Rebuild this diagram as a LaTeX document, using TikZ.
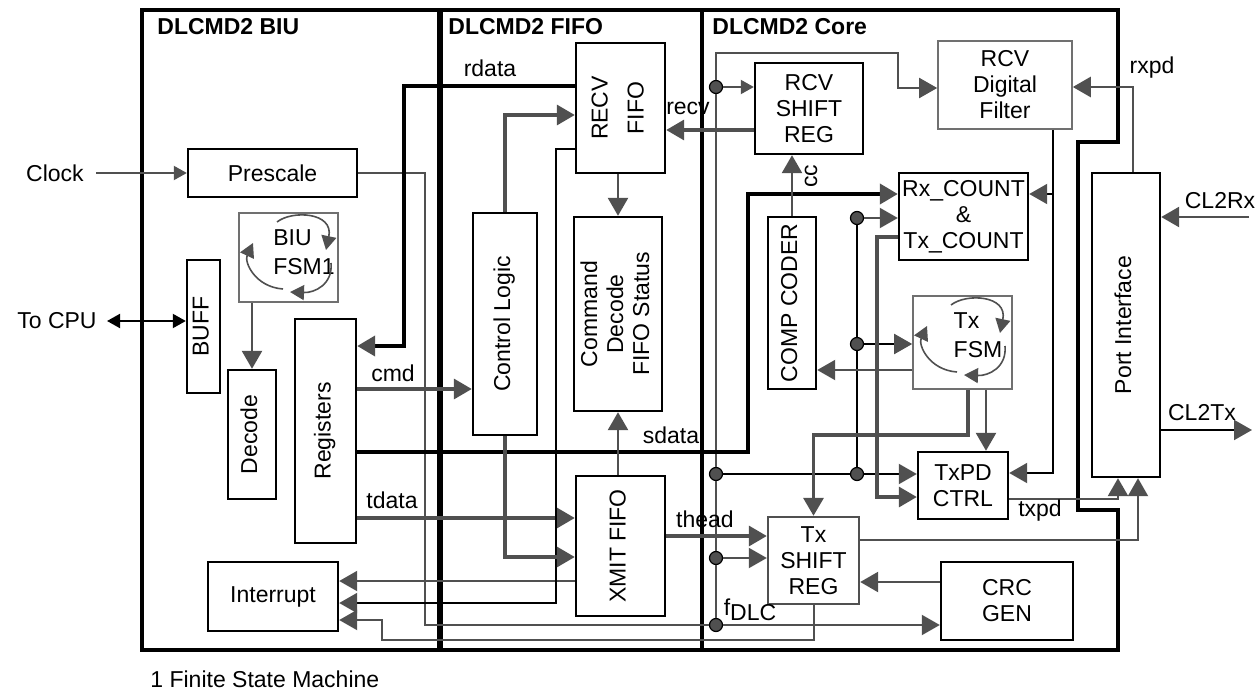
\documentclass[tikz,border=0pt]{standalone}
\usepackage{fontspec}
\setmainfont{Liberation Sans}
\usepackage{graphicx}
\usepackage{tikz}
\usetikzlibrary{arrows.meta,positioning}

\definecolor{agray}{HTML}{505050}
\definecolor{boxgray}{HTML}{707070}

% upright text turned on its side
\newcommand{\uptext}[1]{\rotatebox{90}{\begin{tabular}{@{}c@{}}#1\end{tabular}}}

\tikzset{
  regionframe/.style={line width=1.6pt},
  blk/.style={draw, line width=1.2pt, inner sep=0pt, align=center},
  gblk/.style={draw=boxgray, line width=0.8pt, inner sep=0pt, align=center},
  sz/.style 2 args={minimum width=#1*0.5pt, minimum height=#2*0.5pt},
  wire/.style={line width=1pt, draw=agray},
  mwire/.style={line width=1.3pt, draw=agray},
  bus/.style={line width=1.7pt, draw=agray},
  bwire/.style={line width=1pt, draw=black},
  bbus/.style={line width=2pt, draw=black},
  atip/.style={-{Triangle[length=9pt,width=10pt,color=agray]}},
  satip/.style={-{Triangle[length=6.5pt,width=7pt,color=agray]}},
  ftip/.style={-{Triangle[length=7pt,width=7.5pt,color=agray]}},
  jdot/.style={circle, fill=agray, draw=black, line width=0.6pt, inner sep=0pt, minimum size=6.5pt},
  lbl/.style={inner sep=0pt},
}

\begin{document}
\begin{tikzpicture}[x=0.5pt, y=-0.5pt, every node/.style={font=\fontsize{11.5}{13}\selectfont}]
  \useasboundingbox (0,0) rectangle (1259,696);

  % Region frames
  \draw[regionframe] (142,10) rectangle (440,650);
  \draw[regionframe] (440,10) rectangle (702,650);
  \draw[regionframe] (702,10) -- (1118,10) -- (1118,142) -- (1078,142) -- (1078,510)
    -- (1118,510) -- (1118,650) -- (702,650) -- cycle;
  \draw[line width=2.6pt] (440,10) -- (440,650);
  \draw[line width=2.2pt] (702,10) -- (702,650);

  \node[lbl, anchor=west, font=\bfseries\fontsize{11.5}{13}\selectfont] (biutitle) at (157,27) {DLCMD2 BIU};
  \node[lbl, anchor=west, font=\bfseries\fontsize{11.5}{13}\selectfont] (fifotitle) at (448,27) {DLCMD2 FIFO};
  \node[lbl, anchor=west, font=\bfseries\fontsize{11.5}{13}\selectfont] (coretitle) at (712,27) {DLCMD2 Core};

  % BIU blocks
  \node[blk, sz={169}{48}] (prescale) at (272.5,173) {Prescale};
  \node[gblk, sz={99}{89}] (fsmbiu) at (288.5,257.5) {};
  \node[lbl, align=left] (fsmbiutxt) at (304,252) {BIU\\[1.5pt]FSM1};
  \node[blk, sz={33}{133}] (buff) at (203.5,326.5) {\uptext{BUFF}};
  \node[blk, sz={48}{129}] (decode) at (252,434.5) {\uptext{Decode}};
  \node[blk, sz={61}{224}] (regs) at (325.5,431) {\uptext{Registers}};
  \node[blk, sz={130}{69}] (interrupt) at (273,596.5) {Interrupt};

  % FIFO blocks
  \node[blk, sz={89}{130}] (recvfifo) at (620.5,108) {\uptext{RECV\\[5pt]FIFO}};
  \node[blk, sz={64}{222}] (ctrl) at (505,324) {\uptext{Control Logic}};
  \node[blk, sz={88}{194}] (cmddec) at (618,314) {\uptext{Command\\Decode\\FIFO Status}};
  \node[blk, sz={89}{140}] (xmit) at (620.5,546) {\uptext{XMIT FIFO}};

  % Core blocks
  \node[blk, sz={108}{91}] (rcvsr) at (809,108.5) {RCV\\SHIFT\\REG};
  \node[gblk, sz={134}{88}] (filter) at (1005,85) {RCV\\Digital\\Filter};
  \node[blk, sz={129}{87}] (count) at (963.5,216.5) {Rx\_COUNT\\\&\\Tx\_COUNT};
  \node[blk, sz={48}{172}] (comp) at (792,303) {\uptext{COMP CODER}};
  \node[gblk, sz={99}{93}] (fsmtx) at (962.5,342.5) {};
  \node[lbl, align=left] (fsmtxtxt) at (978,335) {Tx\\[1.5pt]FSM};
  \node[blk, sz={68}{304}] (port) at (1126,325) {\uptext{Port Interface}};
  \node[blk, sz={90}{67}] (txpd) at (963,485.5) {TxPD\\CTRL};
  \node[blk, draw=agray, sz={91}{87}] (txsr) at (813.5,560.5) {Tx\\SHIFT\\REG};
  \node[blk, sz={132}{78}] (crc) at (1007,601) {CRC\\GEN};

  % state loops in the two FSMs
  \foreach \dx/\dy in {0/0, 674/83} {
    \begin{scope}[shift={(\dx,\dy)}]
      \draw[line width=0.8pt, agray, ftip] (283,289) .. controls (255,287) and (244,262) .. (253,243);
      \draw[line width=0.8pt, agray, ftip] (277,222) .. controls (292,210) and (334,212) .. (326,250);
      \draw[line width=0.8pt, agray, ftip] (331,263) .. controls (333,284) and (315,293) .. (290,292);
    \end{scope}
  }

  % outside signals
  \node[lbl] (clock) at (55,173) {Clock};
  \node[lbl] (tocpu) at (57,321) {To CPU};
  \draw[wire, satip] ([xshift=6pt]clock.east) -- (prescale.west);
  \draw[bwire, {Triangle[length=6.5pt,width=7pt]}-{Triangle[length=6.5pt,width=7pt]}]
    ([xshift=5pt]tocpu.east) -- (tocpu.east -| buff.west);

  % junction dots
  \node[jdot] (d0) at (716,87) {};
  \node[jdot] (d1) at (716,474) {};
  \node[jdot] (d2) at (716,558) {};
  \node[jdot] (d3) at (716,625) {};
  \node[jdot] (d4) at (857,218) {};
  \node[jdot] (d5) at (857,344) {};
  \node[jdot] (d6) at (857,474) {};
  \coordinate (fdlctop) at (716,53);

  % clock tree
  \draw[wire] (prescale.east) -| (425,625) -- (d3);
  \draw[wire, atip] (d3) -- (d3 -| crc.west);
  \draw[wire] (d3) -- (d2);
  \draw[wire] (d2) -- (d1);
  \draw[wire] (d1) -- (d0);
  \draw[wire, atip] (d0) -- (fdlctop) -| (898,88) -- (filter.west |- 0,88);
  \draw[wire, satip] (d0) -- (d0 -| rcvsr.west);
  \draw[wire, atip] (d2) -- (d2 -| txsr.west);
  \draw[bwire] (d1) -- (d6);
  \draw[bwire, atip] (d6) -- (d6 -| txpd.west);
  \draw[bwire] (d4) -- (d5);
  \draw[bwire] (d5) -- (d6);
  \draw[wire, atip] (d4) -- (d4 -| count.west);
  \draw[bwire, atip] (d5) -- (d5 -| fsmtx.west);
  \node[lbl] (fdlc) at (750,610) {f\raisebox{-2.5pt}{DLC}};

  % BIU wiring
  \draw[mwire, atip] (fsmbiu.south -| decode.north) -- (decode.north);
  \draw[bbus, atip] (recvfifo.west |- 0,86) -- (404,86) -- (404,346) -- (regs.east |- 0,346);
  \node[lbl] (rdata) at (490,68) {rdata};
  \draw[bus, atip] (regs.east |- 0,389) -- (ctrl.west |- 0,389);
  \node[lbl] (cmd) at (393,373) {cmd};
  \draw[bbus, atip] (regs.east |- 0,452) -- (748,452) -- (748,194) -- (count.west |- 0,194);
  \node[lbl] (sdata) at (671,435) {sdata};
  \draw[bus, atip] (regs.east |- 0,518) -- (xmit.west |- 0,518);
  \node[lbl] (tdata) at (392,500) {tdata};

  % interrupt sources
  \draw[wire, atip] (xmit.west |- 0,581) -- (interrupt.east |- 0,581);
  \draw[bwire, atip] (recvfifo.west |- 0,149) -- (556,149) -- (556,603) -- (interrupt.east |- 0,603);
  \draw[wire, atip] (txsr.south) -- (txsr.south |- 0,640) -- (382,640) -- (382,620) -- (interrupt.east |- 0,620);

  % FIFO wiring
  \draw[bus, atip] (ctrl.north) |- (recvfifo.west |- 0,115);
  \draw[mwire, atip] (recvfifo.south -| cmddec.north) -- (cmddec.north);
  \draw[mwire, atip] (xmit.north -| cmddec.south) -- (cmddec.south);
  \draw[bus, atip] (ctrl.south) |- (xmit.west |- 0,557);
  \draw[bus, atip] (xmit.east |- 0,536) -- (txsr.west |- 0,536);
  \node[lbl] (thead) at (705,519) {thead};
  \draw[bus, atip] (rcvsr.west |- 0,130) -- (recvfifo.east |- 0,130);
  \node[lbl] (recv) at (688,108) {recv};

  % Core wiring
  \draw[mwire, atip] (comp.north) -- (comp.north |- rcvsr.south);
  \node[lbl, rotate=90] (cc) at (811,176) {cc};
  \draw[bus, atip] (count.west |- 0,237) -- (877,237) -- (877,497) -- (txpd.west |- 0,497);
  \draw[wire, atip] (fsmtx.west |- 0,370) -- (comp.east |- 0,370);
  \draw[bus, atip] (fsmtx.south -| 968,0) -- (968,435) -| (txsr.north);
  \draw[mwire, atip] (fsmtx.south -| 986,0) -- (txpd.north -| 986,0);
  \draw[bwire, atip] (filter.south -| 1053,0) -- (1053,473) -- (txpd.east |- 0,473);
  \draw[bwire, atip] (1053,194) -- (count.east |- 0,194);
  \draw[mwire, atip] (crc.west |- 0,582) -- (txsr.east |- 0,582);

  % port side
  \draw[mwire, atip] (port.north -| 1133,0) |- (filter.east |- 0,87);
  \node[lbl] (rxpd) at (1152,68) {rxpd};
  \coordinate (cl2rxin) at (1249,217);
  \draw[mwire, atip] (cl2rxin) -- (cl2rxin -| port.east);
  \node[lbl] (cl2rx) at (1220,201) {CL2Rx};
  \coordinate (cl2txout) at (1252,430);
  \draw[bwire, atip] (port.east |- cl2txout) -- (cl2txout);
  \node[lbl] (cl2tx) at (1202,413) {CL2Tx};
  \draw[mwire, atip] (txpd.east |- 0,499) -| (port.south -| 1118,0);
  \node[lbl] (txpdlbl) at (1040,511) {txpd};
  \draw[wire, atip] (txsr.east |- 0,540) -| (port.south -| 1138,0);

  \node[lbl, anchor=west] (fnote) at (150,679) {1 Finite State Machine};

\end{tikzpicture}
\end{document}
